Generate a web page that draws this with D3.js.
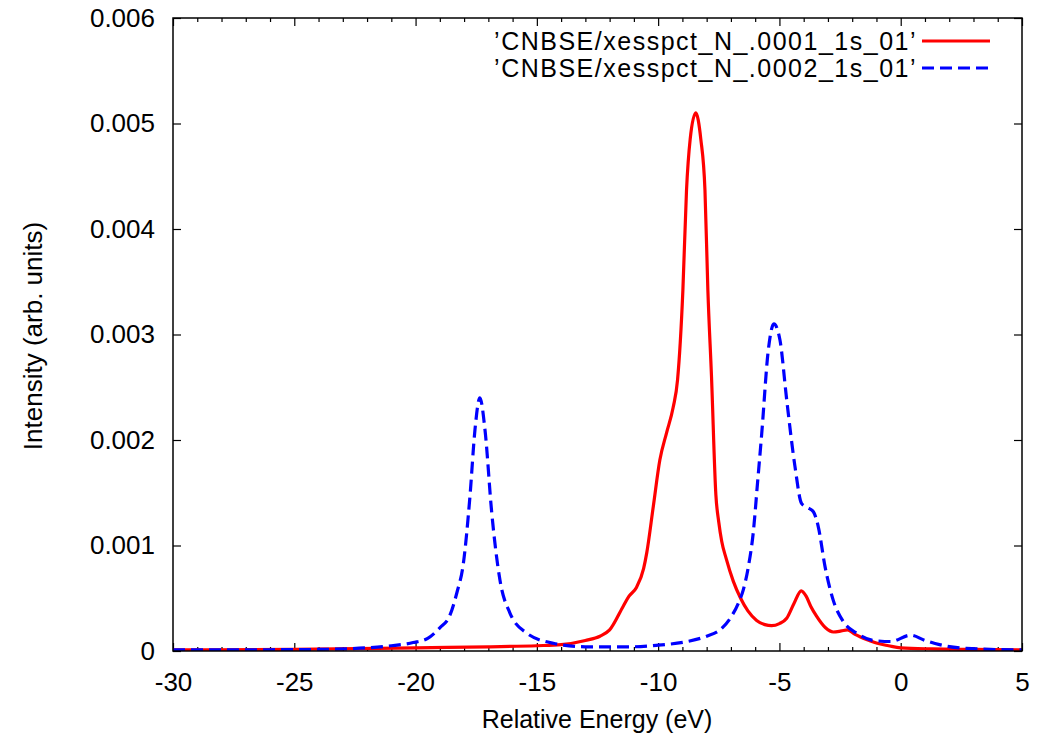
<!DOCTYPE html>
<html>
<head>
<meta charset="utf-8">
<script src="https://cdn.jsdelivr.net/npm/d3@7"></script>
<style>
  body { margin: 0; background: #fff; }
  svg text { font-family: "Liberation Sans", Arial, Helvetica, sans-serif; fill: #000; }
</style>
</head>
<body>
<svg class="chart" width="1053" height="736"></svg>
<script>
// DATA
var seriesNames = ["\u2019CNBSE/xesspct_N_.0001_1s_01\u2019", "\u2019CNBSE/xesspct_N_.0002_1s_01\u2019"];
var seriesColors = ["#ff0000", "#0000ff"];

var energy1 = [-30, -25, -20, -17, -15, -14, -13, -12.4, -12, -11.45, -11.2, -10.9, -10.6, -10.47, -10.2,
  -9.93, -9.65, -9.38, -9.2, -8.98, -8.83, -8.68, -8.45, -8.24, -8.07, -7.95, -7.8, -7.62, -7.5, -7.38,
  -7.2, -6.9, -6.6, -6.3, -5.94, -5.6, -5.32, -5.0, -4.7, -4.4, -4.1, -3.9, -3.7, -3.47, -3.1,
  -2.78, -2.45, -2.2, -1.9, -1.68, -1.3, -1.0, -0.5, 0, 1.3, 3, 5];
var intensity1 = [0.00001, 0.000015, 0.00003, 0.00004, 0.00005, 0.00006, 0.0001, 0.00014, 0.0002, 0.00042, 0.00052, 0.0006, 0.00078, 0.00093, 0.00137,
  0.00181, 0.00207, 0.00231, 0.00257, 0.00342, 0.00437, 0.00485, 0.0051, 0.00485, 0.00437, 0.00342, 0.0026, 0.00148, 0.00122, 0.00104,
  0.00088, 0.00066, 0.0005, 0.00038, 0.00029, 0.00025, 0.00024, 0.00026, 0.00031, 0.00045, 0.00057, 0.00052, 0.00042, 0.00033, 0.00022,
  0.00018, 0.00019, 0.0002, 0.00016, 0.000135, 0.0001, 0.000075, 0.00005, 0.00003, 0.00002, 0.000015, 0.00001];

var energy2 = [-30, -26, -24, -22, -21, -20.1, -19.5, -19, -18.6, -18.3, -18.03, -17.76, -17.55, -17.35, -17.14,
  -16.86, -16.52, -16.11, -15.42, -14.32, -13, -11, -10, -8.8, -8.0, -7.45, -7.0, -6.7, -6.49, -6.28,
  -6.08, -5.9, -5.73, -5.46, -5.23, -4.98, -4.7, -4.36, -4.09, -3.85, -3.6, -3.4, -3.12, -2.78, -2.37,
  -1.82, -1.13, -0.4, 0.4, 1.0, 1.6, 2.7, 5];
var intensity2 = [0.00001, 0.000012, 0.000015, 0.00003, 0.00005, 0.00008, 0.00012, 0.00022, 0.00033, 0.00055, 0.00083, 0.00146, 0.0021, 0.0024, 0.0021,
  0.00131, 0.00067, 0.00036, 0.00017, 0.000073, 0.00004, 0.00004, 0.000055, 0.00009, 0.00014, 0.0002, 0.00032, 0.00045, 0.00058, 0.0008,
  0.00112, 0.0016, 0.00206, 0.00285, 0.0031, 0.00295, 0.00238, 0.00175, 0.0014, 0.00136, 0.00132, 0.00118, 0.0008, 0.00048, 0.00028,
  0.00017, 0.0001, 0.00009, 0.00015, 0.0001, 0.00006, 0.000025, 0.00001];

var xMajorTicks = [-30, -25, -20, -15, -10, -5, 0, 5];
var yMajorTicks = [0, 0.001, 0.002, 0.003, 0.004, 0.005, 0.006];
var yTickLabels = ["0", "0.001", "0.002", "0.003", "0.004", "0.005", "0.006"];
var xLabel = "Relative Energy (eV)";
var yLabel = "Intensity (arb. units)";

// GEOMETRY
var margin = {top: 18, right: 31, bottom: 85, left: 173},
    width = 1053 - margin.left - margin.right,
    height = 736 - margin.top - margin.bottom;
var fontSize = 26;

var svg = d3.select(".chart");
var chart = svg.append("g")
  .attr("transform", "translate(" + margin.left + "," + margin.top + ")");

var x = d3.scaleLinear().domain([-30, 5]).range([0, width]);
var y = d3.scaleLinear().domain([0, 0.006]).range([height, 0]);

var xMinor = d3.range(-30, 6, 1).filter(function(v){ return v % 5 !== 0; });

// minor x ticks, bottom and top (inward)
chart.append("g")
  .attr("transform", "translate(0," + height + ")")
  .call(d3.axisBottom(x).tickValues(xMinor).tickSize(-4).tickFormat(""));
chart.append("g")
  .call(d3.axisTop(x).tickValues(xMinor).tickSize(-4).tickFormat(""));
// major x ticks (plain hyphen minus like the original)
chart.append("g")
  .attr("transform", "translate(0," + height + ")")
  .call(d3.axisBottom(x).tickValues(xMajorTicks).tickSizeInner(-8).tickSizeOuter(0).tickPadding(22)
    .tickFormat(function(d){ return String(d); }));
chart.append("g")
  .call(d3.axisTop(x).tickValues(xMajorTicks).tickSizeInner(-8).tickSizeOuter(0).tickFormat(""));
// y ticks, left and right
chart.append("g")
  .call(d3.axisLeft(y).tickValues(yMajorTicks).tickSizeInner(-8).tickSizeOuter(0).tickPadding(18)
    .tickFormat(function(d, i){ return yTickLabels[i]; }));
chart.append("g")
  .attr("transform", "translate(" + width + ",0)")
  .call(d3.axisRight(y).tickValues(yMajorTicks).tickSizeInner(-8).tickSizeOuter(0).tickFormat(""));

chart.selectAll(".domain").remove();
chart.selectAll(".tick line").attr("stroke", "#000").attr("stroke-width", 1.2);
chart.selectAll(".tick text").style("font-size", fontSize + "px")
  .style("font-family", "'Liberation Sans', Arial, sans-serif").attr("fill", "#000");

// curves
svg.append("defs").append("clipPath").attr("id", "clip")
  .append("rect").attr("width", width).attr("height", height);
var plotBody = chart.append("g").attr("clip-path", "url(#clip)");

var line = d3.line()
  .x(function(d){ return x(d[0]); })
  .y(function(d){ return y(d[1]); })
  .curve(d3.curveMonotoneX);

var curves = [
  {name: seriesNames[0], color: seriesColors[0], dash: null, pts: d3.zip(energy1, intensity1)},
  {name: seriesNames[1], color: seriesColors[1], dash: "12,6", pts: d3.zip(energy2, intensity2)}
];

curves.forEach(function(c){
  plotBody.append("path")
    .attr("d", line(c.pts))
    .attr("fill", "none")
    .attr("stroke", c.color)
    .attr("stroke-width", 3.2)
    .attr("stroke-dasharray", c.dash)
    .attr("stroke-linejoin", "round");
});

// frame
chart.append("rect")
  .attr("width", width).attr("height", height)
  .attr("fill", "none").attr("stroke", "#000").attr("stroke-width", 1.5);

// legend
var legend = chart.append("g");
curves.forEach(function(c, i){
  var ly = 23 + i * 27;
  legend.append("text")
    .attr("x", 917 - margin.left)
    .attr("y", ly)
    .attr("dy", "0.35em")
    .style("text-anchor", "end")
    .style("font-size", "25px")
    .style("letter-spacing", "1.5px")
    .text(c.name);
  legend.append("line")
    .attr("x1", 922 - margin.left).attr("x2", 990 - margin.left)
    .attr("y1", ly).attr("y2", ly)
    .attr("stroke", c.color).attr("stroke-width", 3.2)
    .attr("stroke-dasharray", c.dash);
});

// axis labels
chart.append("text")
  .attr("x", 597 - margin.left)
  .attr("y", 728 - margin.top)
  .style("text-anchor", "middle")
  .style("font-size", "25px")
  .text(xLabel);

chart.append("text")
  .attr("transform", "translate(" + (42 - margin.left) + "," + (336 - margin.top) + ") rotate(-90)")
  .style("text-anchor", "middle")
  .style("font-size", fontSize + "px")
  .text(yLabel);
</script>
</body>
</html>
